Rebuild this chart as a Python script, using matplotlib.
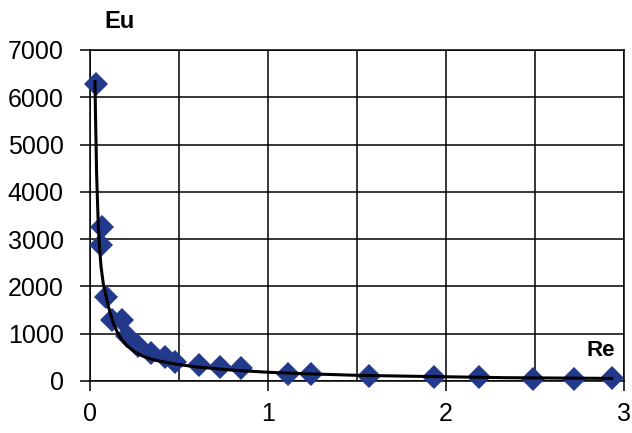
import matplotlib
matplotlib.use("Agg")
import matplotlib.pyplot as plt
from matplotlib.ticker import MultipleLocator

plt.rcParams['font.family'] = ['Liberation Sans', 'DejaVu Sans']

# Measured points
re_pts = [0.034, 0.066, 0.06, 0.088, 0.125, 0.18, 0.21, 0.27, 0.34, 0.42, 0.48,
          0.61, 0.73, 0.85, 1.11, 1.24, 1.57, 1.93, 2.185, 2.49, 2.72, 2.93]
eu_pts = [6290, 3262, 2875, 1782, 1300, 1280, 950, 740, 600, 500, 400,
          338, 300, 266, 150, 150, 106, 78, 78, 45, 50, 55]

# Trend line
re_fit = [0.028, 0.031, 0.034, 0.037, 0.042, 0.047, 0.054, 0.062, 0.075, 0.09,
          0.103, 0.131, 0.155, 0.178, 0.21, 0.253, 0.3, 0.365, 0.478, 0.59,
          0.8, 1.0, 1.2, 1.5, 1.9, 2.34, 2.93]
eu_fit = [6330, 5600, 5020, 4400, 3800, 3262, 2800, 2416, 2050, 1800,
          1580, 1220, 1020, 880, 740, 610, 520, 440, 360, 300,
          230, 185, 155, 120, 95, 70, 55]

x_ticks = [0, 1, 2, 3]
y_ticks = [0, 1000, 2000, 3000, 4000, 5000, 6000, 7000]

fig = plt.figure(figsize=(6.32, 4.33), dpi=100)
ax = fig.add_axes([90/632, (433-381)/433, (624-90)/632, (381-50)/433])

ax.set_xlim(0, 3)
ax.set_ylim(0, 7000)
ax.set_xticks(x_ticks)
ax.set_yticks(y_ticks)
ax.xaxis.set_minor_locator(MultipleLocator(0.5))
ax.grid(True, which='both', color='black', linewidth=1.1)
ax.set_axisbelow(True)
ax.tick_params(axis='x', which='minor', length=0)
ax.tick_params(axis='both', which='major', direction='out', length=7,
               width=1.1, labelsize=18, color='black')
ax.tick_params(axis='x', pad=8)
ax.tick_params(axis='y', pad=12)
for s in ax.spines.values():
    s.set_color('black')
    s.set_linewidth(1.1)

ax.plot(re_pts, eu_pts, linestyle='none', marker='D', markersize=12,
        color='#22398C', markeredgewidth=0, clip_on=False, zorder=3)
ax.plot(re_fit, eu_fit, color='black', linewidth=2.2, zorder=4, clip_on=False)

fig.text(119/632, 1 - 22/433, 'Eu', fontsize=17, fontweight='bold',
         ha='center', va='center')
fig.text(601/632, 1 - 350/433, 'Re', fontsize=16, fontweight='bold',
         ha='center', va='center')

fig.savefig('out.png', dpi=100, facecolor='white')
